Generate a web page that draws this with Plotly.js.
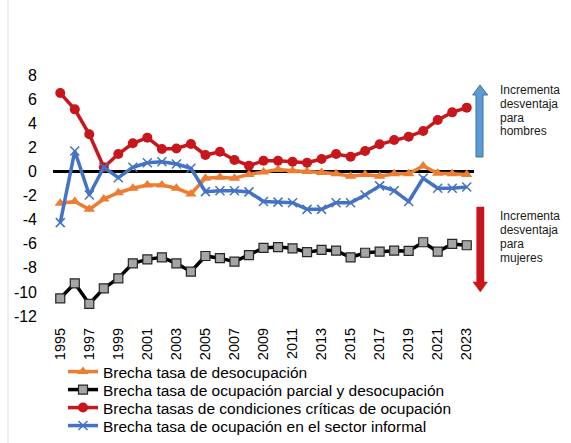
<!DOCTYPE html>
<html>
<head>
<meta charset="utf-8">
<script src="https://cdn.plot.ly/plotly-3.0.1.min.js"></script>
<style>html,body{margin:0;padding:0;background:#fff;}#chart{width:571px;height:443px;}</style>
</head>
<body>
<div id="chart"></div>
<script>
var years = [1995,1996,1997,1998,1999,2000,2001,2002,2003,2004,2005,2006,2007,2008,2009,2010,2011,2012,2013,2014,2015,2016,2017,2018,2019,2020,2021,2022,2023];
var tickYears = [1995,1997,1999,2001,2003,2005,2007,2009,2011,2013,2015,2017,2019,2021,2023];
var yTicks = [8,6,4,2,0,-2,-4,-6,-8,-10,-12];

var desocupacion = [-2.65,-2.5,-3.15,-2.3,-1.77,-1.4,-1.13,-1.13,-1.4,-1.87,-0.57,-0.49,-0.57,-0.25,-0.05,0.15,0.05,0,-0.1,-0.2,-0.4,-0.25,-0.4,-0.2,-0.2,0.45,-0.15,-0.2,-0.25];
var parcial = [-10.53,-9.29,-11.0,-9.7,-8.87,-7.63,-7.3,-7.13,-7.63,-8.32,-7.02,-7.2,-7.49,-6.95,-6.35,-6.28,-6.38,-6.7,-6.52,-6.58,-7.13,-6.75,-6.66,-6.58,-6.6,-5.88,-6.66,-6.02,-6.13];
var criticas = [6.5,5.15,3.08,0.34,1.44,2.33,2.8,1.86,1.9,2.27,1.36,1.63,0.95,0.47,0.89,0.89,0.8,0.72,1.03,1.44,1.22,1.69,2.25,2.6,2.88,3.35,4.27,4.9,5.29];
var informal = [-4.25,1.69,-1.96,0.34,-0.52,0.34,0.72,0.8,0.61,0.26,-1.68,-1.6,-1.6,-1.7,-2.5,-2.55,-2.6,-3.15,-3.15,-2.6,-2.6,-1.96,-1.2,-1.6,-2.5,-0.57,-1.4,-1.4,-1.3];

var names = [
  'Brecha tasa de desocupación',
  'Brecha tasa de ocupación parcial y desocupación',
  'Brecha tasas de condiciones críticas de ocupación',
  'Brecha tasa de ocupación en el sector informal'
];
var noteTop = ['Incrementa', 'desventaja', 'para', 'hombres'];
var noteBottom = ['Incrementa', 'desventaja', 'para', 'mujeres'];

// plot area geometry (pixels)
var W = 571, H = 443, ML = 53, MR = 97, MT = 75, MB = 127;
var PW = W - ML - MR, PH = H - MT - MB;
function px(x){ return (x - ML) / PW; }
function py(y){ return (H - MB - y) / PH; }
function path(pts){
  return 'M' + pts.map(function(p){ return px(p[0]).toFixed(5) + ',' + py(p[1]).toFixed(5); }).join(' L') + ' Z';
}

var traces = [
  {x: years, y: desocupacion, name: names[0], mode: 'lines+markers', legend: 'legend',
   line: {color: '#ED7D31', width: 3.5},
   marker: {symbol: 'triangle-up', size: 10, color: '#ED7D31'}},
  {x: years, y: parcial, name: names[1], mode: 'lines+markers', legend: 'legend2',
   line: {color: '#000000', width: 3.5},
   marker: {symbol: 'square', size: 9, color: '#A5A5A5', line: {color: '#262626', width: 1.2}}},
  {x: years, y: criticas, name: names[2], mode: 'lines+markers', legend: 'legend3',
   line: {color: '#C8161D', width: 3.5},
   marker: {symbol: 'circle', size: 10, color: '#C8161D'}},
  {x: years, y: informal, name: names[3], mode: 'lines+markers', legend: 'legend4',
   line: {color: '#4472C4', width: 3.5},
   marker: {symbol: 'x-thin', size: 9, color: '#4472C4', line: {color: '#4472C4', width: 1.5}}}
];

var FAM = 'Liberation Sans, Arial, sans-serif';
var legFont = {family: FAM, size: 15.5, color: '#000'};
function leg(yc){
  return {x: px(63), xanchor: 'left', y: py(yc), yanchor: 'middle', orientation: 'v',
          font: legFont, bgcolor: 'rgba(0,0,0,0)', borderwidth: 0};
}
function noteAnns(lines, ys){
  return lines.map(function(t, i){
    return {xref: 'paper', yref: 'paper', x: px(498), y: py(ys[i]), xanchor: 'left', yanchor: 'middle',
            align: 'left', showarrow: false, text: t, font: {size: 12, color: '#1a1a1a', family: FAM}};
  });
}

var layout = {
  width: W, height: H,
  margin: {l: ML, r: MR, t: MT, b: MB, pad: 0, autoexpand: false},
  paper_bgcolor: '#fff', plot_bgcolor: '#fff',
  font: {family: FAM, color: '#000'},
  showlegend: true,
  legend: leg(372), legend2: leg(390), legend3: leg(408), legend4: leg(426),
  xaxis: {
    range: [1994.5, 2023.5], tickmode: 'array', tickvals: tickYears, ticktext: tickYears.map(String),
    tickangle: -90, tickfont: {size: 14.5, color: '#000'}, showgrid: false, zeroline: false,
    showline: false, ticks: '', ticklabelstandoff: 8, fixedrange: true, automargin: false
  },
  yaxis: {
    range: [-12, 8], tickmode: 'array', tickvals: yTicks, ticktext: yTicks.map(String),
    tickfont: {size: 16, color: '#000'}, showgrid: false, showline: false, ticks: '',
    zeroline: true, zerolinecolor: '#000', zerolinewidth: 2.5, ticklabelstandoff: 15, fixedrange: true, automargin: false
  },
  shapes: [
    {type: 'line', xref: 'paper', yref: 'paper', x0: px(8), x1: px(8), y0: py(0), y1: py(443),
     line: {color: '#D9D9D9', width: 1}},
    {type: 'path', xref: 'paper', yref: 'paper',
     path: path([[476,157],[476,95],[472.7,95],[480,85],[487.7,95],[483,95],[483,157]]),
     fillcolor: '#5B9BD5', line: {color: '#41719C', width: 1}},
    {type: 'path', xref: 'paper', yref: 'paper',
     path: path([[476.7,207],[484,207],[484,282],[487.5,282],[480.3,292],[473,282],[476.7,282]]),
     fillcolor: '#C8161D', line: {color: '#C8161D', width: 0.5}}
  ],
  annotations: noteAnns(noteTop, [90, 104, 118, 131]).concat(noteAnns(noteBottom, [216, 230, 244, 258]))
};

Plotly.newPlot('chart', traces, layout, {displayModeBar: false, staticPlot: true});
</script>
</body>
</html>
